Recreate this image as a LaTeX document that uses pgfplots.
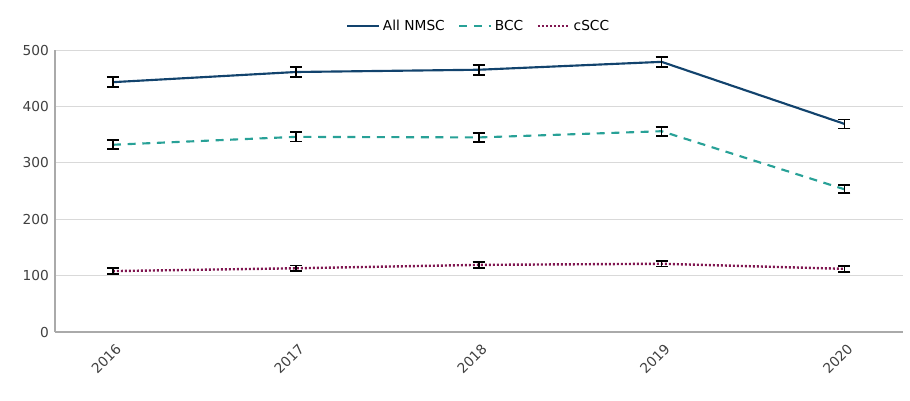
\documentclass[border=0pt]{standalone}
\usepackage{pgfplots}
\pgfplotsset{compat=1.18}
\usepackage{fontspec}
\setmainfont{DejaVu Sans}
\definecolor{nmsc}{HTML}{12436D}
\definecolor{bcc}{HTML}{28A197}
\definecolor{cscc}{HTML}{801650}
\definecolor{gridc}{HTML}{D9D9D9}
\definecolor{axc}{HTML}{AAAAAA}
\definecolor{txt}{HTML}{404040}
\begin{document}
\fontsize{10.3}{12}\selectfont
\begin{tikzpicture}
\begin{axis}[
  scale only axis,
  width=636pt, height=211.5pt,
  xmin=-0.317, xmax=4.32,
  ymin=0, ymax=500,
  xtick={0,1,2,3,4},
  xticklabels={2016,2017,2018,2019,2020},
  ytick={0,100,...,500},
  /pgf/number format/assume math mode=true,
  axis x line*=bottom, axis y line*=left,
  axis line style={axc, line width=0.8pt, -},
  major tick length=0pt,
  ymajorgrids, grid style={gridc, line width=0.75pt},
  tick label style={text=txt, font=\fontsize{10.3}{12}\selectfont},
  xticklabel style={rotate=45, anchor=north east, yshift=-3pt, xshift=-1pt},
  yticklabel style={xshift=-1pt},
  legend style={draw=none, fill=none, at={(0.5,1.085)}, anchor=center,
    legend columns=3, font=\fontsize{10.3}{12}\selectfont,
    /tikz/every even column/.append style={column sep=8pt}},
  legend image code/.code={\draw[#1] (0pt,0pt) -- (24pt,0pt);},
  error bars/error bar style={black, line width=1.3pt, solid},
  error bars/error mark options={rotate=90, black, mark size=4.5pt, line width=1.3pt, solid},
]
\addplot[nmsc, line width=1.6pt, mark=none,
  error bars/.cd, y dir=both, y explicit] coordinates {
(0,443) +- (0,9)
(1,461) +- (0,9)
(2,465) +- (0,9)
(3,479) +- (0,9)
(4,369) +- (0,8)
};
\addlegendentry{All NMSC}
\addplot[bcc, line width=1.6pt, dash pattern=on 6pt off 5pt, mark=none,
  error bars/.cd, y dir=both, y explicit] coordinates {
(0,332) +- (0,8)
(1,346) +- (0,8)
(2,345) +- (0,8)
(3,356) +- (0,8)
(4,253) +- (0,7)
};
\addlegendentry{BCC}
\addplot[cscc, line width=1.8pt, dash pattern=on 1.5pt off 1.5pt, mark=none,
  error bars/.cd, y dir=both, y explicit] coordinates {
(0,108) +- (0,5)
(1,113) +- (0,5)
(2,119) +- (0,5)
(3,121) +- (0,5)
(4,112) +- (0,5)
};
\addlegendentry{cSCC}
\end{axis}
\pgfresetboundingbox
\path[use as bounding box] (-41.25pt,-51pt) rectangle (641.25pt,249pt);
\end{tikzpicture}
\end{document}
